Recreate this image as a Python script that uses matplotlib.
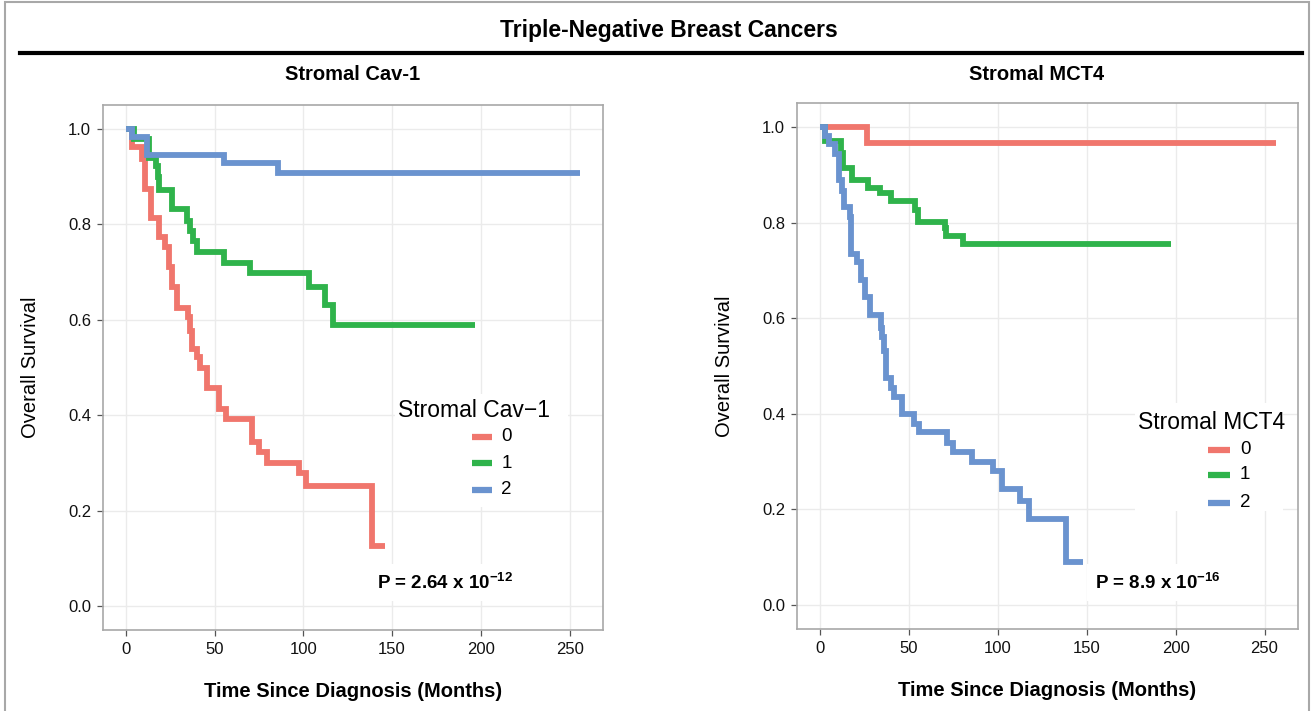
import numpy as np
import matplotlib
matplotlib.use("Agg")
import matplotlib.pyplot as plt
from matplotlib.patches import Rectangle
from matplotlib.lines import Line2D

plt.rcParams['font.family'] = 'Liberation Sans'
plt.rcParams['mathtext.fontset'] = 'custom'
plt.rcParams['mathtext.rm'] = 'Liberation Sans'
plt.rcParams['mathtext.bf'] = 'Liberation Sans:bold'

# ---- data (months, survival fraction) ----
groups = ["0", "1", "2"]
colors = ["#F0766D", "#2FB34B", "#6A93CF"]

cav_t0 = [0, 3.7, 9.4, 11, 14, 18.8, 22, 24.3, 26.2, 29, 35, 36.1, 37.4, 40.2,
          42.1, 45.9, 52.4, 56.2, 71.2, 74.9, 79.6, 97.4, 101.7, 138.6, 146]
cav_s0 = [1.0, 0.962, 0.937, 0.874, 0.813, 0.773, 0.752, 0.710, 0.668, 0.625,
          0.605, 0.577, 0.539, 0.521, 0.500, 0.458, 0.413, 0.392, 0.343, 0.322,
          0.299, 0.278, 0.252, 0.126, 0.126]
cav_t1 = [0, 4.7, 13.1, 17, 18, 19, 26.2, 34.3, 36.2, 38.0, 40.3, 55.6, 70.2,
          103.5, 112.4, 117, 196.6]
cav_s1 = [1.0, 0.979, 0.940, 0.923, 0.900, 0.872, 0.832, 0.808, 0.787, 0.766,
          0.743, 0.720, 0.697, 0.668, 0.631, 0.590, 0.590]
cav_t2 = [0, 3.7, 11.8, 55.6, 85.7, 255.6]
cav_s2 = [1.0, 0.982, 0.946, 0.928, 0.907, 0.907]

mct_t0 = [0, 26.3, 256.6]
mct_s0 = [1.0, 0.967, 0.967]
mct_t1 = [0, 3.2, 12, 13, 18.2, 27, 33.8, 39.8, 53.3, 55.2, 70.4, 71, 80.7, 197.5]
mct_s1 = [1.0, 0.971, 0.945, 0.915, 0.888, 0.873, 0.861, 0.846, 0.826, 0.802,
          0.788, 0.772, 0.755, 0.755]
mct_t2 = [0, 3.2, 5.1, 8.8, 10.7, 12.6, 13.5, 16.9, 17.8, 21, 23.3, 25.7, 28.5,
          34.2, 35.2, 36.2, 37.5, 39.8, 41.6, 46.4, 52.9, 55.7, 71.7, 75, 85.8,
          97.5, 102.6, 112.6, 117.6, 138.3, 148.2]
mct_s2 = [1.0, 0.981, 0.964, 0.943, 0.888, 0.867, 0.832, 0.811, 0.735, 0.718,
          0.680, 0.645, 0.607, 0.58, 0.56, 0.531, 0.474, 0.455, 0.436, 0.400,
          0.379, 0.361, 0.340, 0.321, 0.300, 0.281, 0.242, 0.217, 0.181, 0.091,
          0.091]

xticks = [0, 50, 100, 150, 200, 250]
yticks = [0.0, 0.2, 0.4, 0.6, 0.8, 1.0]

W, H = 1315, 711
fig = plt.figure(figsize=(W / 100, H / 100), dpi=100)


def px_axes(x0, y0, x1, y1):
    # pixel box (top-left origin) -> figure fraction
    return fig.add_axes([x0 / W, 1 - y1 / H, (x1 - x0) / W, (y1 - y0) / H])


def draw_panel(ax, curves, leg_title, ptext, leg_pos, leg_box, p_pos):
    for (t, s), c in zip(curves, colors):
        ax.step(t, s, where='post', color=c, lw=4.2, solid_capstyle='butt',
                solid_joinstyle='miter', zorder=3)
    ax.set_xlim(-12.8, 268.8)
    ax.set_ylim(-0.05, 1.05)
    ax.set_xticks(xticks)
    ax.set_yticks(yticks)
    ax.set_yticklabels([f"{v:.1f}" for v in yticks])
    ax.grid(True, color='#ebebeb', lw=1.0, zorder=0)
    ax.set_axisbelow(True)
    for sp in ax.spines.values():
        sp.set_color('#a8a8a8')
        sp.set_linewidth(1.2)
    ax.tick_params(colors='#555555', labelcolor='#111111', labelsize=12,
                   length=4.5, width=0.9, pad=4)
    ax.set_xlabel("Time Since Diagnosis (Months)", fontsize=14.5,
                  fontweight='bold', labelpad=18)
    ax.set_ylabel("Overall Survival", fontsize=14.5, labelpad=20)

    # legend drawn by hand to mimic the ggplot layout
    bx0, by0, bx1, by1 = leg_box
    ax.add_patch(Rectangle((bx0, by0), bx1 - bx0, by1 - by0, transform=ax.transAxes,
                           facecolor='white', edgecolor='none', zorder=1))
    tx, ty, lx0, lx1, labx, ys = leg_pos
    ax.text(tx, ty, leg_title, transform=ax.transAxes, fontsize=16.5,
            ha='left', va='center', zorder=4)
    for g, c, yy in zip(groups, colors, ys):
        ax.add_line(Line2D([lx0, lx1], [yy, yy], transform=ax.transAxes,
                           color=c, lw=4.5, solid_capstyle='butt', zorder=4))
        ax.text(labx, yy, g, transform=ax.transAxes, fontsize=13.5,
                ha='left', va='center', zorder=4)

    ax.text(p_pos[0], p_pos[1], ptext, transform=ax.transAxes, fontsize=13.5,
            ha='center', va='center', fontweight='bold', zorder=4,
            bbox=dict(facecolor='white', edgecolor='none', pad=6))


ax1 = px_axes(103, 105, 603, 630)
draw_panel(ax1, [(cav_t0, cav_s0), (cav_t1, cav_s1), (cav_t2, cav_s2)],
           "Stromal Cav\u22121",
           r"P = 2.64 x 10$^{\mathbf{-12}}$",
           (0.59, 0.419, 0.738, 0.779, 0.797, [0.368, 0.318, 0.267]),
           (0.585, 0.235, 0.93, 0.45),
           (0.685, 0.091))

ax2 = px_axes(797, 103, 1298, 629)
draw_panel(ax2, [(mct_t0, mct_s0), (mct_t1, mct_s1), (mct_t2, mct_s2)],
           "Stromal MCT4",
           r"P = 8.9 x 10$^{\mathbf{-16}}$",
           (0.681, 0.392, 0.82, 0.864, 0.884, [0.341, 0.293, 0.240]),
           (0.675, 0.225, 0.97, 0.43),
           (0.72, 0.088))

# panel titles, overall title, rule and frame
fig.text(353 / W, 1 - 75 / H, "Stromal Cav-1", fontsize=14.5,
         fontweight='bold', ha='center', va='center')
fig.text(1037 / W, 1 - 75 / H, "Stromal MCT4", fontsize=14.5,
         fontweight='bold', ha='center', va='center')
fig.text(669 / W, 1 - 30 / H, "Triple-Negative Breast Cancers", fontsize=16.5,
         fontweight='bold', ha='center', va='center')
fig.add_artist(Line2D([20 / W, 1302 / W], [1 - 53 / H, 1 - 53 / H],
                      color='black', lw=3.0))
fig.add_artist(Rectangle((5 / W, -0.01), 1304 / W, 1 - 2 / H + 0.01,
                         transform=fig.transFigure, facecolor='none',
                         edgecolor='#a8a8a8', lw=1.5))

fig.savefig("out.png", dpi=100)
